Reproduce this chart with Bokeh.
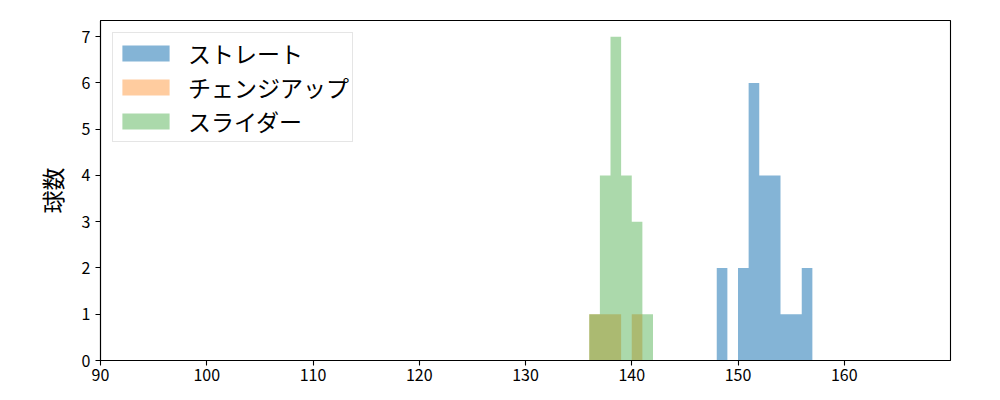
from bokeh.plotting import figure
from bokeh.models import Legend, LegendItem, Range1d, FixedTicker
from bokeh.embed import file_html
from bokeh.resources import INLINE

# Histogram data (bin edges and counts)
straight_edges = [148, 149, 150, 151, 152, 153, 154, 155, 156, 157]
straight_counts = [2, 0, 2, 6, 4, 4, 1, 1, 2]

changeup_edges = [136, 137, 138, 139, 140, 141]
changeup_counts = [1, 1, 1, 0, 1]

slider_edges = [136, 137, 138, 139, 140, 141, 142]
slider_counts = [1, 4, 7, 4, 3, 1]

labels = ["ストレート", "チェンジアップ", "スライダー"]
x_ticks = [90, 100, 110, 120, 130, 140, 150, 160]
y_ticks = [0, 1, 2, 3, 4, 5, 6, 7]

FONT = "Noto Sans CJK JP"

p = figure(frame_width=850, frame_height=340, output_backend="svg",
           toolbar_location=None,
           x_range=Range1d(90, 170), y_range=Range1d(0, 7.35),
           min_border_left=100, min_border_right=50,
           min_border_top=20, min_border_bottom=40)
p.background_fill_color = "white"
p.border_fill_color = "white"
p.outline_line_color = "black"
p.outline_line_width = 1.1
p.xgrid.visible = False
p.ygrid.visible = False

def hist(edges, counts, color, alpha):
    # one stepped area per series (no seams between adjacent bins)
    ys = list(counts) + [counts[-1]]
    return p.varea_step(x=list(edges), y1=[0] * len(ys), y2=ys, step_mode="after",
                        fill_color=color, fill_alpha=alpha)

r1 = hist(straight_edges, straight_counts, "#1f77b4", 0.55)
r2 = hist(changeup_edges, changeup_counts, "#ff7f0e", 0.4)
r3 = hist(slider_edges, slider_counts, "#2ca02c", 0.4)

for ax in (p.xaxis[0], p.yaxis[0]):
    ax.axis_line_color = "black"
    ax.axis_line_width = 1.1
    ax.major_tick_line_color = "black"
    ax.major_tick_line_width = 1.1
    ax.major_tick_out = 5
    ax.major_tick_in = 0
    ax.minor_tick_line_color = None
    ax.major_label_text_font = FONT
    ax.major_label_text_font_size = "16px"
    ax.major_label_text_color = "black"

p.xaxis.ticker = FixedTicker(ticks=x_ticks)
p.yaxis.ticker = FixedTicker(ticks=y_ticks)
p.xaxis.major_label_standoff = 3
p.yaxis.major_label_standoff = 5
p.yaxis.axis_label = "球数"
p.yaxis.axis_label_text_font = FONT
p.yaxis.axis_label_text_font_size = "23px"
p.yaxis.axis_label_text_font_style = "normal"
p.yaxis.axis_label_text_color = "black"
p.yaxis.axis_label_standoff = 10

legend = Legend(items=[LegendItem(label=labels[0], renderers=[r1]),
                       LegendItem(label=labels[1], renderers=[r2]),
                       LegendItem(label=labels[2], renderers=[r3])],
                location="top_left")
legend.margin = 12
legend.padding = 3
legend.spacing = 0
legend.glyph_width = 59
legend.glyph_height = 20
legend.label_height = 30
legend.label_standoff = 13
legend.label_text_font = FONT
legend.label_text_font_size = "23px"
legend.label_text_color = "black"
legend.border_line_color = "#cccccc"
legend.border_line_width = 1
legend.background_fill_alpha = 0.8
p.add_layout(legend)

open("out.html", "w").write(file_html(p, INLINE))
